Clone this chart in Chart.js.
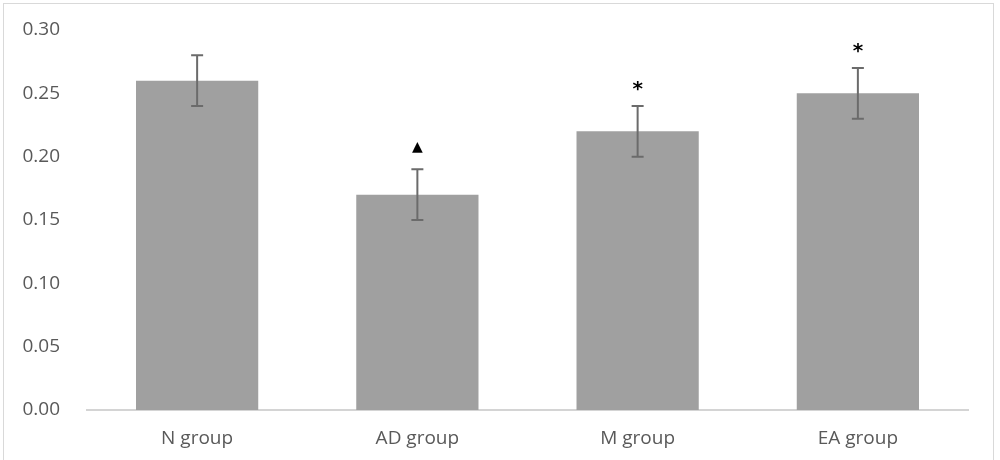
<!DOCTYPE html>
<html>
<head>
<meta charset="utf-8">
<script src="https://cdn.jsdelivr.net/npm/chart.js@4"></script>
<style>
  html, body { margin: 0; padding: 0; background: #fff; }
  #wrap { position: relative; width: 1000px; height: 460px; }
  #frame { position: absolute; left: 3px; top: 3px; width: 991px; height: 470px; border: 1.5px solid #d9d9d9; box-sizing: border-box; }
  canvas { position: absolute; left: 0; top: 0; }
</style>
</head>
<body>
<div id="wrap">
  <div id="frame"></div>
  <canvas id="c" width="1000" height="460"></canvas>
</div>
<script>
const categories = ['N group', 'AD group', 'M group', 'EA group'];
const means = [0.26, 0.17, 0.22, 0.25];
const errors = [0.02, 0.02, 0.02, 0.02];
const markers = ['', '\u25B2', '*', '*'];
const yTicks = [0, 0.05, 0.10, 0.15, 0.20, 0.25, 0.30];

const errorBarPlugin = {
  id: 'errorBars',
  afterDatasetsDraw(chart) {
    const ctx = chart.ctx;
    const meta = chart.getDatasetMeta(0);
    const ys = chart.scales.y;
    ctx.save();
    meta.data.forEach((bar, i) => {
      const x = bar.x;
      const yTop = ys.getPixelForValue(means[i] + errors[i]);
      const yBot = ys.getPixelForValue(means[i] - errors[i]);
      ctx.strokeStyle = '#6b6b6b';
      ctx.lineWidth = 2;
      ctx.beginPath();
      ctx.moveTo(x, yTop); ctx.lineTo(x, yBot);
      ctx.moveTo(x - 6, yTop); ctx.lineTo(x + 6, yTop);
      ctx.moveTo(x - 6, yBot); ctx.lineTo(x + 6, yBot);
      ctx.stroke();
      const m = markers[i];
      if (m) {
        ctx.fillStyle = '#000';
        ctx.textAlign = 'center';
        ctx.textBaseline = 'middle';
        if (m === '*') {
          ctx.font = 'bold 20px "DejaVu Sans"';
          ctx.fillText(m, x, yTop - 16);
        } else {
          ctx.font = '14px "DejaVu Sans"';
          ctx.fillText(m, x, yTop - 22);
        }
      }
    });
    ctx.restore();
  }
};

new Chart(document.getElementById('c'), {
  type: 'bar',
  data: {
    labels: categories,
    datasets: [{
      data: means,
      backgroundColor: '#a0a0a0',
      borderWidth: 0,
      barPercentage: 0.555,
      categoryPercentage: 1.0
    }]
  },
  options: {
    responsive: false,
    animation: false,
    devicePixelRatio: 1,
    layout: { padding: { left: 0, right: 32, top: 30, bottom: 0 } },
    plugins: { legend: { display: false }, tooltip: { enabled: false } },
    scales: {
      x: {
        grid: { display: false, drawTicks: false },
        border: { display: true, color: '#d4d4d4', width: 2 },
        ticks: { color: '#595959', font: { family: '"Open Sans"', size: 19 }, padding: 17 },
        afterFit(s) { s.height = 50; s.paddingLeft = 0; s.paddingRight = 0; }
      },
      y: {
        min: 0, max: 0.30,
        afterBuildTicks(s) { s.ticks = yTicks.map(v => ({ value: v })); },
        grid: { display: false, drawTicks: false },
        border: { display: false },
        ticks: {
          color: '#595959', font: { family: '"Open Sans"', size: 19 }, padding: 27,
          callback: v => Number(v).toFixed(2)
        },
        afterFit(s) { s.width = 87; s.paddingTop = 0; s.paddingBottom = 0; }
      }
    }
  },
  plugins: [errorBarPlugin]
});
</script>
</body>
</html>
